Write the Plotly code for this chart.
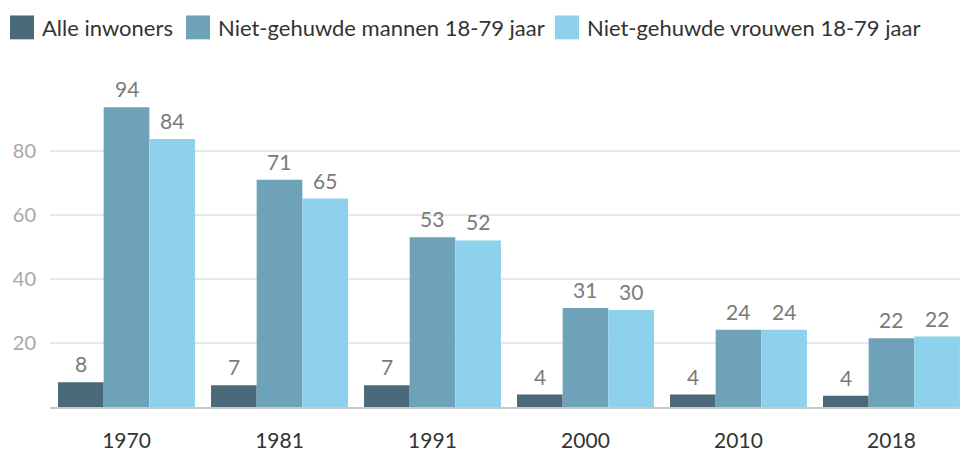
import plotly.graph_objects as go

years = ["1970", "1981", "1991", "2000", "2010", "2018"]
series_names = ["Alle inwoners", "Niet-gehuwde mannen 18-79 jaar", "Niet-gehuwde vrouwen 18-79 jaar"]
alle = [7.7, 6.8, 6.8, 3.9, 3.9, 3.5]
mannen = [93.6, 71.0, 53.0, 30.9, 24.1, 21.5]
vrouwen = [83.7, 65.1, 52.0, 30.3, 24.1, 22.0]
y_ticks = [20, 40, 60, 80]

colors = ["#4a6a7a", "#6ea2b8", "#8ed1ec"]
FONT = "Lato, 'Open Sans', sans-serif"

W, H = 960, 452
ML, MR, MT, MB = 50, 0, 90, 43
BARGAP = 0.105

fig = go.Figure()
all_series = [alle, mannen, vrouwen]
for name, vals, col in zip(series_names, all_series, colors):
    fig.add_trace(go.Bar(x=years, y=vals, name=name, marker=dict(color=col, line=dict(width=0)),
                         showlegend=False, hoverinfo="x+y"))

# value labels above each bar
slot = (1 - BARGAP) / len(all_series)
annotations = []
for k, vals in enumerate(all_series):
    off = (k - (len(all_series) - 1) / 2) * slot
    for j, v in enumerate(vals):
        annotations.append(dict(x=j + off, y=v, xref="x", yref="y", text=f"{v:.0f}",
                                showarrow=False, yanchor="bottom", xanchor="center", yshift=4,
                                font=dict(family=FONT, size=21, color="#7a7a7a")))

# custom legend (large squares)
pw = W - ML - MR
ph = H - MT - MB
def px_x(px):
    return (px - ML) / pw
def px_y(py):
    return (H - MB - py) / ph

legend_sq_x = [10, 186, 555]
shapes = []
for name, col, sx in zip(series_names, colors, legend_sq_x):
    shapes.append(dict(type="rect", xref="paper", yref="paper", x0=px_x(sx), x1=px_x(sx + 24),
                       y0=px_y(39), y1=px_y(15), fillcolor=col, line=dict(width=0)))
    annotations.append(dict(x=px_x(sx + 30), y=px_y(27), xref="paper", yref="paper", text=name,
                            showarrow=False, xanchor="left", yanchor="middle",
                            font=dict(family=FONT, size=22, color="#333333")))

fig.update_layout(
    width=W, height=H,
    margin=dict(l=ML, r=MR, t=MT, b=MB),
    paper_bgcolor="white", plot_bgcolor="white",
    barmode="group", bargap=BARGAP, bargroupgap=0,
    showlegend=False,
    font=dict(family=FONT),
    shapes=shapes,
    annotations=annotations,
    xaxis=dict(type="category", range=[-0.5, 5.448], showgrid=False, showline=True,
               linecolor="#c8c8c8", linewidth=2, ticks="outside", ticklen=0,
               ticklabelstandoff=14, tickfont=dict(family=FONT, size=21, color="#333333"),
               fixedrange=True),
    yaxis=dict(range=[0, 99], tickvals=y_ticks, showgrid=True, gridcolor="#e8e8e8", gridwidth=2,
               zeroline=False, showline=False, ticks="", ticklabelstandoff=13,
               tickfont=dict(family=FONT, size=20, color="#a8a8a8"), fixedrange=True),
)

fig.write_html("out.html", config={"displayModeBar": False},
               post_script="document.body.style.margin='0';document.body.style.overflow='hidden';")
